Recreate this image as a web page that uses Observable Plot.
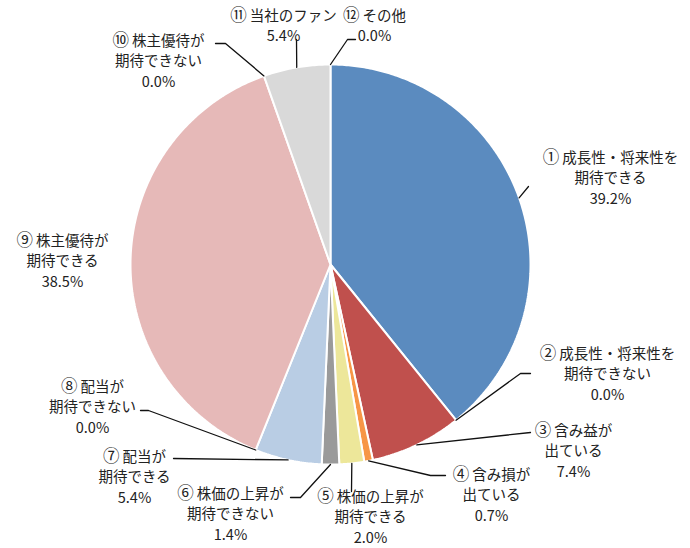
<!DOCTYPE html>
<html><head><meta charset="utf-8">
<script src="https://cdn.jsdelivr.net/npm/d3@7"></script>
<script src="https://cdn.jsdelivr.net/npm/@observablehq/plot@0.6"></script>
<style>body{margin:0;background:#fff} #chart{width:690px;height:548px}</style>
</head><body><div id="chart"></div>
<script>
// ---- data ----
const categories = [
  "① 成長性・将来性を\n期待できる",
  "② 成長性・将来性を\n期待できない",
  "③ 含み益が\n出ている",
  "④ 含み損が\n出ている",
  "⑤ 株価の上昇が\n期待できる",
  "⑥ 株価の上昇が\n期待できない",
  "⑦ 配当が\n期待できる",
  "⑧ 配当が\n期待できない",
  "⑨ 株主優待が\n期待できる",
  "⑩ 株主優待が\n期待できない",
  "⑪ 当社のファン",
  "⑫ その他"
];
const values = [39.2, 0.0, 7.4, 0.7, 2.0, 1.4, 5.4, 0.0, 38.5, 0.0, 5.4, 0.0];

// ---- style ----
const palette = ["#5b8bbf","#5b8bbf","#c0504d","#f79646","#ede79a","#9a9a9a","#b9cde4","#b9cde4","#e6b9b8","#e6b9b8","#d9d9d9","#d9d9d9"];

// ---- layout (pixel space) ----
const W = 690, H = 548, CX = 330, CY = 264, R = 200;
const labelPos = [[610,176],[607,372],[573,449],[491,493],[370,515],[230,512],[134,475],[92,405],[62,259],[158,59],[283,24],[374,24]];
const leaderBends = [
  [[528,186]],
  [[520,373],[530,373]],
  [[530,432]],
  [[430,475],[445,475]],
  [[351,491]],
  [[300,497],[290,497]],
  [[173,458]],
  [[148,410],[140,410]],
  null,
  [[225,43],[215,43]],
  [[296,39]],
  [[347,39],[355,39]]
];

const arcs = d3.pie().sort(null).value(d => d)(values);

const wedges = arcs.flatMap((a, i) => {
  const span = a.endAngle - a.startAngle;
  if (span <= 0) return [];
  const n = Math.max(2, Math.ceil(span / 0.01));
  const pts = [{i, x: CX, y: CY}];
  for (let k = 0; k <= n; k++) {
    const ang = a.startAngle + span * k / n;
    pts.push({i, x: CX + R * Math.sin(ang), y: CY - R * Math.cos(ang)});
  }
  return pts;
});

const leaders = arcs.flatMap((a, i) => {
  if (!leaderBends[i]) return [];
  const mid = (a.startAngle + a.endAngle) / 2;
  const start = {i, x: CX + R * Math.sin(mid), y: CY - R * Math.cos(mid)};
  return [start, ...leaderBends[i].map(([x, y]) => ({i, x, y}))];
});

const labels = categories.map((c, i) => ({
  x: labelPos[i][0], y: labelPos[i][1],
  text: c + "\n" + values[i].toFixed(1) + "%"
}));

const chart = Plot.plot({
  width: W, height: H, margin: 0,
  style: {fontFamily: "'Noto Sans CJK JP', 'Noto Sans', sans-serif", background: "#fff"},
  x: {domain: [0, W], range: [0, W], axis: null},
  y: {domain: [0, H], range: [0, H], axis: null},
  color: {type: "identity"},
  marks: [
    Plot.line(wedges, {x: "x", y: "y", z: "i", fill: d => palette[d.i], stroke: "#fff", strokeWidth: 2, curve: "linear-closed", strokeLinejoin: "miter"}),
    Plot.line(leaders, {x: "x", y: "y", z: "i", stroke: "#111", strokeWidth: 1.3}),
    Plot.text(labels, {x: "x", y: "y", text: "text", textAnchor: "middle", lineAnchor: "middle", lineHeight: 1.42, fontSize: 14.5, fill: "#222"})
  ]
});
// enlarge circled numerals to full character size
chart.querySelectorAll("tspan").forEach(t => {
  const s = t.textContent;
  if (/^[\u2460-\u246B]/.test(s)) {
    const ns = "http://www.w3.org/2000/svg";
    const big = document.createElementNS(ns, "tspan");
    big.setAttribute("font-size", "16.5");
    big.textContent = s[0];
    const rest = document.createTextNode(s.slice(1));
    t.textContent = "";
    t.appendChild(big);
    t.appendChild(rest);
  }
});
document.getElementById("chart").appendChild(chart);
</script>
</body></html>
